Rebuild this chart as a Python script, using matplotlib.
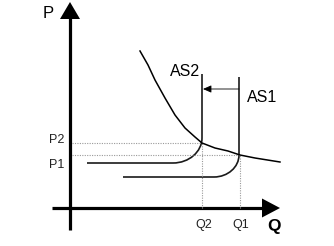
import matplotlib.pyplot as plt
from matplotlib.path import Path
from matplotlib.patches import PathPatch

plt.rcParams['font.family'] = ['Liberation Sans', 'DejaVu Sans']

# equilibrium values (Q, P)
q1, q2 = 170, 132
p1, p2 = 53, 65

# demand curve
demand_q = [70, 78, 85, 95, 105, 115, 125, 132, 145, 158, 170, 185, 210]
demand_p = [157, 143, 128, 110, 93, 80, 71, 65, 60, 57, 53, 50, 46]

# supply curves: vertical part (top, bend start), horizontal part (level, left end)
as2 = dict(q=q2, top=134, bend=70, level=45, left=17, bend_q=103)
as1 = dict(q=q1 - 1, top=131, bend=53, level=31, left=53, bend_q=144)

fig = plt.figure(figsize=(3.34, 2.46), dpi=100)
ax = fig.add_axes([0, 0, 1, 1])
ax.set_xlim(-70, 264)
ax.set_ylim(-38, 208)
ax.axis('off')

# axes with arrow heads
ax.plot([0, 0], [-22, 190], color='black', lw=2.3, solid_capstyle='butt')
ax.plot([-18, 194], [0, 0], color='black', lw=2.3, solid_capstyle='butt')
ax.fill([-10, 10, 0], [189, 189, 206], color='black', lw=0)
ax.fill([192, 192, 210], [-9.5, 9.5, 0], color='black', lw=0)

# dotted guide lines
dot = dict(color='#999999', lw=0.8, ls=(0, (1, 1.2)))
ax.plot([2, q2], [p2, p2], **dot)
ax.plot([2, q1], [p1, p1], **dot)
ax.plot([q2, q2], [0, p2], **dot)
ax.plot([q1, q1], [0, p1], **dot)

# demand
ax.plot(demand_q, demand_p, color='black', lw=1.1)

# supply curves, rounded corner as a cubic bezier
k = 0.55
for s in (as2, as1):
    h = s['bend'] - s['level']
    w = s['q'] - s['bend_q']
    verts = [(s['q'], s['top']), (s['q'], s['bend']),
             (s['q'], s['bend'] - k * h), (s['bend_q'] + k * w, s['level']),
             (s['bend_q'], s['level']), (s['left'], s['level'])]
    codes = [Path.MOVETO, Path.LINETO, Path.CURVE4, Path.CURVE4, Path.CURVE4, Path.LINETO]
    ax.add_patch(PathPatch(Path(verts, codes), fill=False, color='#1a1a1a', lw=1.2))

# shift arrow AS1 -> AS2
ax.annotate('', xy=(q2 + 1, 119), xytext=(q1 - 1, 119),
            arrowprops=dict(arrowstyle='-|>,head_length=0.5,head_width=0.22',
                            color='black', lw=0.6, shrinkA=0, shrinkB=0))

# labels
ax.text(-22, 194, 'P', fontsize=12, ha='center', va='center')
ax.text(204, -19, 'Q', fontsize=12.5, fontweight='bold', ha='center', va='center')
ax.text(115, 137, 'AS2', fontsize=11.5, ha='center', va='center')
ax.text(192, 110, 'AS1', fontsize=11.5, ha='center', va='center')
ax.text(-13, 68, 'P2', fontsize=9, ha='center', va='center', color='#222222')
ax.text(-13, 43, 'P1', fontsize=9, ha='center', va='center', color='#222222')
ax.text(q2 + 2, -17, 'Q2', fontsize=9, ha='center', va='center', color='#222222')
ax.text(q1 + 1, -17, 'Q1', fontsize=9, ha='center', va='center', color='#222222')

fig.savefig('out.png', dpi=100)
